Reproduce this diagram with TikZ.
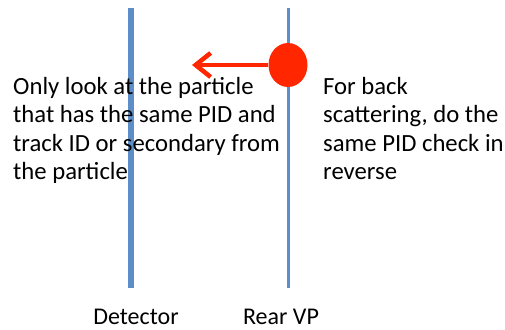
\documentclass[tikz,border=0pt]{standalone}
\usepackage{fontspec}
\setmainfont{Carlito}
\usetikzlibrary{arrows.meta,shapes.geometric}

\definecolor{planeblue}{RGB}{94,142,200}
\definecolor{hitred}{RGB}{255,38,0}

\begin{document}
\begin{tikzpicture}[x=1pt,y=-1pt,
  note/.style={anchor=north west, inner sep=0pt, align=left,
    font=\fontsize{24.7}{28.5}\selectfont},
  planename/.style={anchor=base, inner sep=0pt, text depth=0pt,
    font=\fontsize{24}{28}\selectfont},
  plane/.style={draw=planeblue, line cap=butt}]
\useasboundingbox (0,0) rectangle (505,329);

% the two planes
\coordinate (dettop) at (131,8);
\coordinate (detbot) at (131,288);
\coordinate (vptop) at (288,8);
\coordinate (vpbot) at (288,288);
\draw[plane, line width=6pt] (dettop) -- (detbot);
\draw[plane, line width=3pt] (vptop) -- (vpbot);

% hit on the rear plane, pointing back
\node[ellipse, fill=hitred, inner sep=0pt, minimum width=39pt, minimum height=44pt] (hit) at (288,65) {};
\coordinate (tip) at (192,65);
\draw[hitred, line width=4.5pt, -{Straight Barb[length=15pt, width=24pt]}] (hit.west) -- (tip);

% text
\node[note] (fwdnote) at (13,77) {Only look at the particle\\that has the same PID and\\track ID or secondary from\\the particle};
\node[note] (backnote) at (323,77) {For back\\scattering, do the\\same PID check in\\reverse};

\node[planename] (detname) at (136,324) {Detector};
\node[planename] (vpname) at (281,324) {Rear VP};
\end{tikzpicture}
\end{document}
